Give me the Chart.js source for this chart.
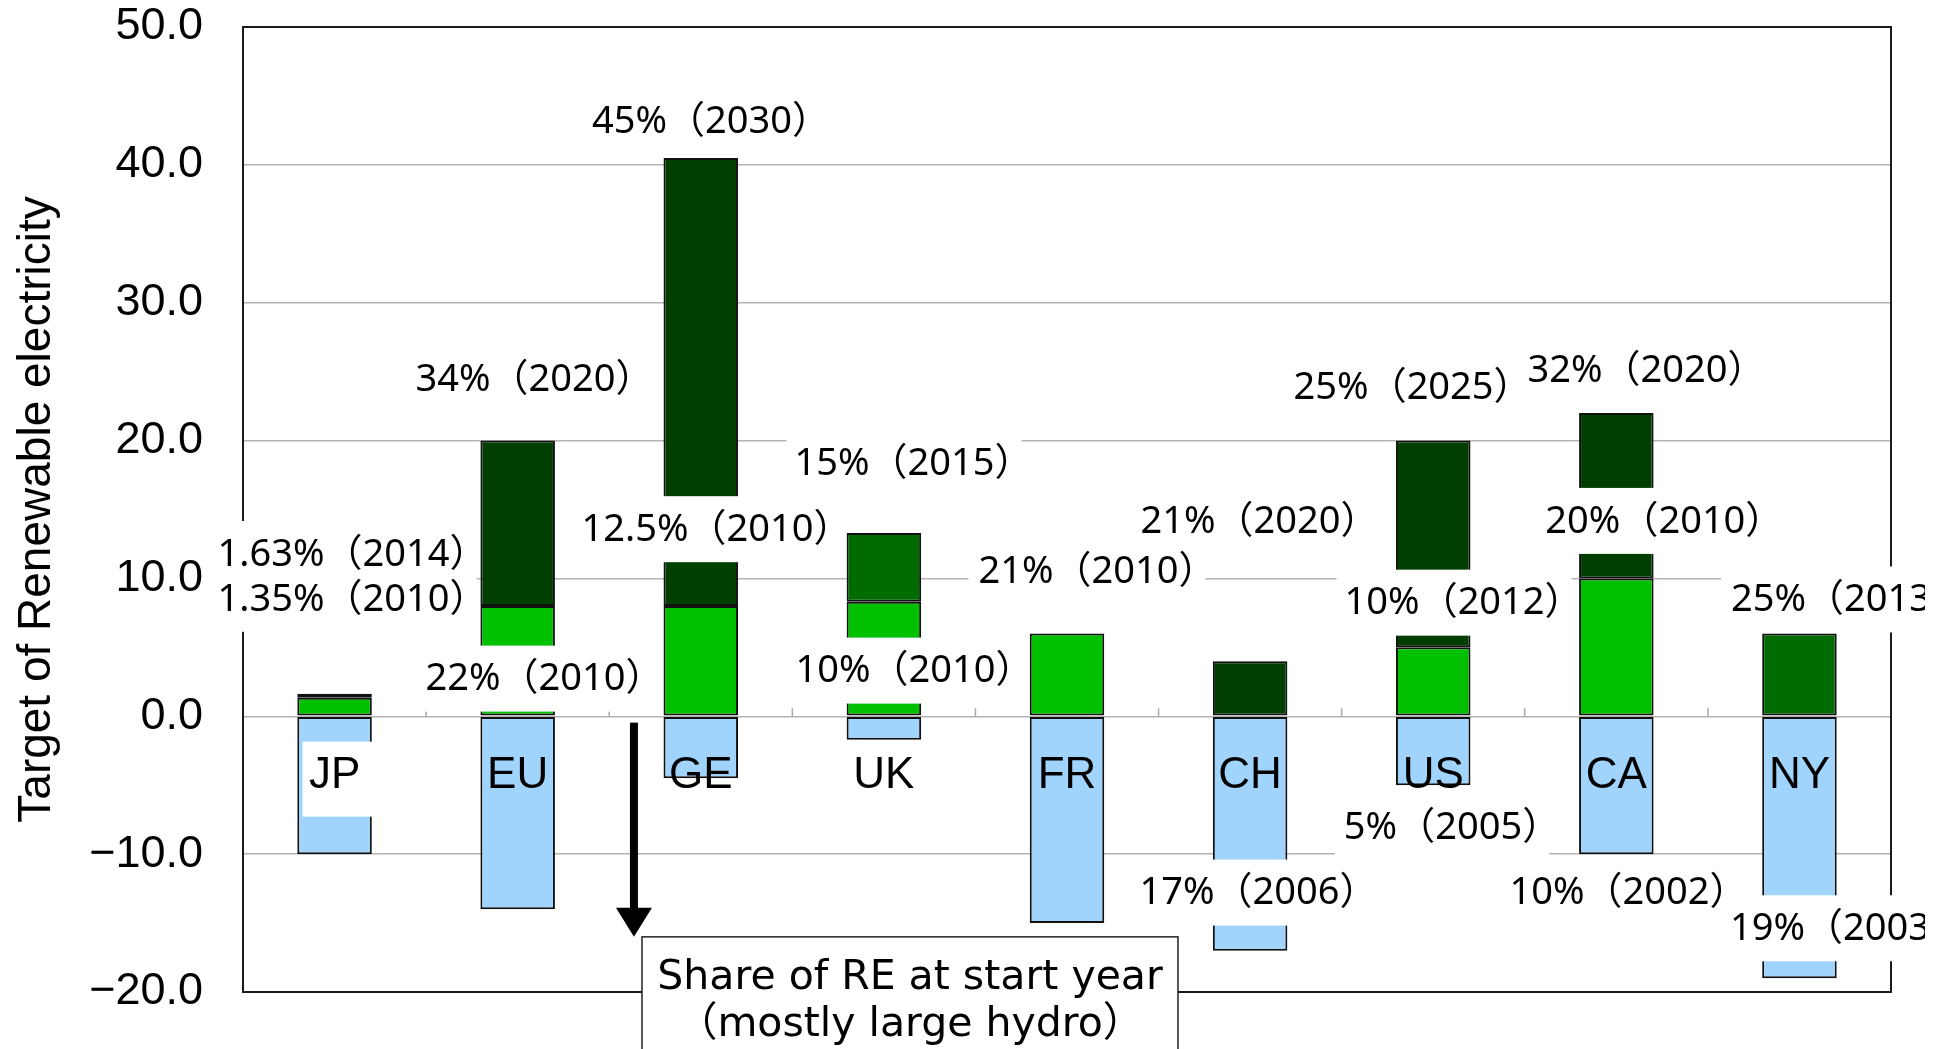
<!DOCTYPE html>
<html>
<head>
<meta charset="utf-8">
<script src="https://cdn.jsdelivr.net/npm/chart.js@4.4.1/dist/chart.umd.min.js"></script>
<style>
  html, body { margin: 0; padding: 0; background: #fff; }
  #wrap { width: 1948px; height: 1049px; position: relative; }
</style>
</head>
<body>
<div id="wrap"><canvas id="reChart"></canvas></div>
<script>
// categories and series (percentage points relative to the share at start year)
var categories = ["JP", "EU", "GE", "UK", "FR", "CH", "US", "CA", "NY"];
var startShare = [-10, -14, -4.5, -1.7, -15, -17, -5, -10, -19];
var firstTarget = [1.35, 8, 8, 8.3, 6, null, 5, 10, null];
var finalTarget = [0.28, 12, 32.5, null, null, 4, 15, 12, null];
var finalTargetMid = [null, null, null, 5, null, null, null, null, 6];
var yTickValues = [-20, -10, 0, 10, 20, 30, 40, 50];

// target labels, anchored in data units (category index, value)
var notes = [
    { text: "45%（2030）", cat: 1.985, val: 43.1 },
    { text: "34%（2020）", cat: 1.024, val: 24.4 },
    { text: "15%（2015）", cat: 3.099, val: 18.3 },
    { text: "1.63%（2014）", cat: 0.035, val: 11.7 },
    { text: "1.35%（2010）", cat: 0.035, val: 8.45 },
    { text: "12.5%（2010）", cat: 2.023, val: 13.5 },
    { text: "22%（2010）", cat: 1.078, val: 2.66 },
    { text: "10%（2010）", cat: 3.104, val: 3.24 },
    { text: "21%（2010）", cat: 4.098, val: 10.42 },
    { text: "21%（2020）", cat: 4.983, val: 14.1 },
    { text: "17%（2006）", cat: 4.983, val: -12.86 },
    { text: "25%（2025）", cat: 5.819, val: 23.8 },
    { text: "32%（2020）", cat: 7.096, val: 25.0 },
    { text: "20%（2010）", cat: 7.194, val: 14.1 },
    { text: "10%（2012）", cat: 6.103, val: 8.17 },
    { text: "5%（2005）", cat: 6.037, val: -8.08 },
    { text: "10%（2002）", cat: 7.004, val: -12.86 },
    { text: "25%（2013）", cat: 7.632, val: 8.4, left: true },
    { text: "19%（2003）", cat: 7.637, val: -15.45, left: true }
];
var shareBoxText = ["Share of RE at start year", "（mostly large hydro）"];

var noteFont = '38px "Noto Sans", "Noto Sans CJK JP", sans-serif';
var boxFont = '41px "DejaVu Sans", "Noto Sans CJK JP", sans-serif';
var axisFont = '"Liberation Sans", Arial, sans-serif';

var overlay = {
    id: "overlay",
    beforeDatasetsDraw: function (chart) {
        var ctx = chart.ctx, a = chart.chartArea, x = chart.scales.x, y = chart.scales.y;
        ctx.save();
        // little ticks on the zero line between categories
        var y0 = y.getPixelForValue(0);
        ctx.strokeStyle = "#a8a8a8";
        ctx.lineWidth = 1.5;
        for (var i = 1; i < categories.length; i++) {
            var bx = x.getPixelForValue(i - 0.5);
            ctx.beginPath();
            ctx.moveTo(bx, y0);
            ctx.lineTo(bx, y0 - 8);
            ctx.stroke();
        }
        // plot frame
        ctx.strokeStyle = "#1a1a1a";
        ctx.lineWidth = 2;
        ctx.strokeRect(a.left, a.top, a.right - a.left, a.bottom - a.top);
        ctx.restore();
    },
    afterDatasetsDraw: function (chart) {
        var ctx = chart.ctx, x = chart.scales.x, y = chart.scales.y;
        ctx.save();
        ctx.beginPath();
        ctx.rect(0, 0, 1925, chart.height);
        ctx.clip();

        // category names inside the plot
        ctx.font = "44px " + axisFont;
        ctx.textAlign = "center";
        ctx.textBaseline = "middle";
        categories.forEach(function (c, i) {
            var cx = x.getPixelForValue(i), cy = y.getPixelForValue(-4.16);
            if (i === 0) {
                ctx.fillStyle = "#fff";
                ctx.fillRect(cx - 32, cy - 32, 72, 75);
            }
            ctx.fillStyle = "#000";
            ctx.fillText(c, cx, cy + 2);
        });

        // target labels: white boxes first, then the texts (placed by ink extent)
        ctx.font = noteFont;
        ctx.textAlign = "left";
        var placed = notes.map(function (n) {
            var px = x.getPixelForValue(n.cat), py = y.getPixelForValue(n.val);
            var m = ctx.measureText(n.text);
            var inkW = m.actualBoundingBoxRight + m.actualBoundingBoxLeft;
            var inkL = n.left ? px : px - inkW / 2;
            return { text: n.text, tx: inkL + m.actualBoundingBoxLeft, py: py, inkL: inkL, inkR: inkL + inkW };
        });
        ctx.fillStyle = "#fff";
        placed.forEach(function (p) {
            ctx.fillRect(p.inkL - 11, p.py - 34, p.inkR - p.inkL + 26, 66);
        });
        ctx.fillStyle = "#000";
        placed.forEach(function (p) {
            ctx.fillText(p.text, p.tx, p.py);
        });

        // arrow pointing to the start-year box
        var ax = x.getPixelForValue(1.635);
        var aTop = y.getPixelForValue(-0.46), aTip = y.getPixelForValue(-16);
        ctx.fillStyle = "#000";
        ctx.fillRect(ax - 4, aTop, 8, aTip - aTop - 28);
        ctx.beginPath();
        ctx.moveTo(ax - 18, aTip - 29);
        ctx.lineTo(ax + 18, aTip - 29);
        ctx.lineTo(ax, aTip);
        ctx.closePath();
        ctx.fill();

        // "Share of RE at start year" box
        var l = x.getPixelForValue(1.679), r = x.getPixelForValue(4.606);
        var t = y.getPixelForValue(-16);
        ctx.fillStyle = "#fff";
        ctx.fillRect(l, t, r - l, chart.height - t + 10);
        ctx.strokeStyle = "#222";
        ctx.lineWidth = 1.5;
        ctx.strokeRect(l, t, r - l, chart.height - t + 10);
        ctx.fillStyle = "#000";
        ctx.font = boxFont;
        ctx.textAlign = "center";
        var tx = x.getPixelForValue(3.143);
        ctx.fillText(shareBoxText[0], tx, y.getPixelForValue(-19.0));
        ctx.fillText(shareBoxText[1], tx, y.getPixelForValue(-22.4));
        ctx.restore();
    }
};

function barSet(label, data, color) {
    return {
        label: label,
        data: data,
        backgroundColor: color,
        borderColor: "#111",
        borderWidth: 2,
        borderSkipped: false,
        categoryPercentage: 1,
        barPercentage: 0.407
    };
}

var ctx = document.getElementById("reChart").getContext("2d");
new Chart(ctx, {
    type: "bar",
    data: {
        labels: categories,
        datasets: [
            barSet("Share at start year", startShare, "#A0D4FC"),
            barSet("First target", firstTarget, "#00C000"),
            barSet("Final target", finalTarget, "#003F00"),
            barSet("Final target ", finalTargetMid, "#006C00")
        ]
    },
    options: {
        responsive: true,
        maintainAspectRatio: false,
        animation: false,
        devicePixelRatio: 1,
        layout: { padding: { top: 27, right: 57, bottom: 57, left: 0 } },
        plugins: { legend: { display: false }, tooltip: { enabled: false } },
        scales: {
            x: {
                stacked: true,
                display: false
            },
            y: {
                stacked: true,
                min: -20,
                max: 50,
                afterFit: function (scale) {
                    scale.width = 243;
                    scale.paddingTop = 0;
                    scale.paddingBottom = 0;
                },
                afterBuildTicks: function (scale) {
                    scale.ticks = yTickValues.map(function (v) { return { value: v }; });
                },
                grid: { color: "#b4b4b4", lineWidth: 1.5, drawTicks: false },
                border: { display: false },
                ticks: {
                    padding: 40,
                    color: "#000",
                    font: { family: axisFont, size: 45 },
                    callback: function (v) { return v.toFixed(1).replace("-", "\u2212"); }
                },
                title: {
                    display: true,
                    text: "Target of Renewable electricity",
                    color: "#000",
                    font: { family: axisFont, size: 46 },
                    padding: { top: 10, bottom: 0 }
                }
            }
        }
    },
    plugins: [overlay]
});
</script>
</body>
</html>
